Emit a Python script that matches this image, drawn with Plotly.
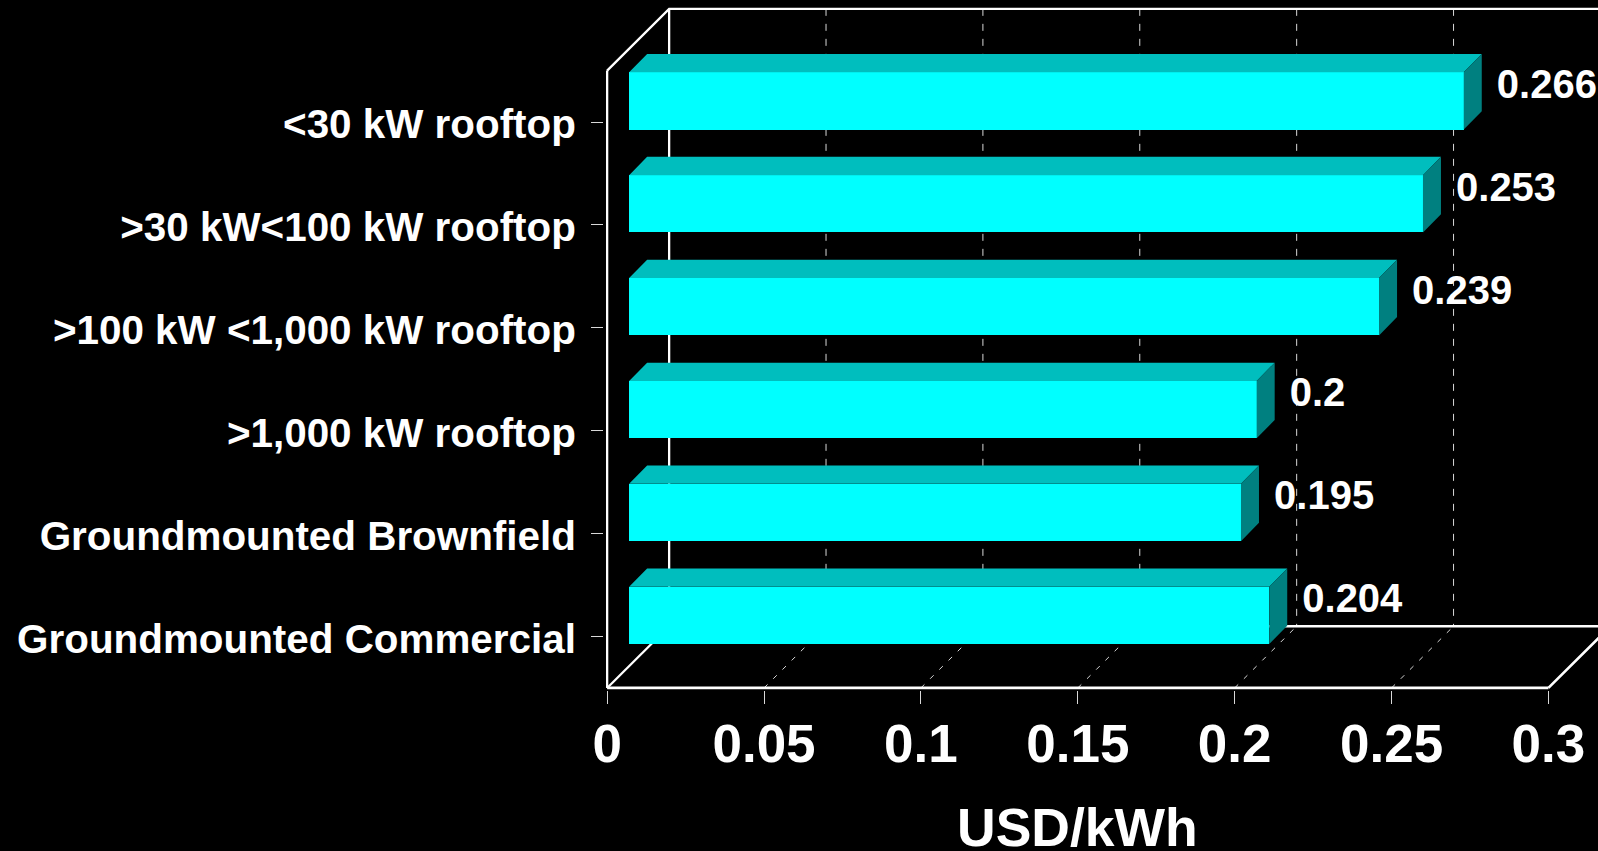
import plotly.graph_objects as go

categories = ["<30 kW rooftop", ">30 kW<100 kW rooftop", ">100 kW <1,000 kW rooftop",
              ">1,000 kW rooftop", "Groundmounted Brownfield", "Groundmounted Commercial"]
values = [0.266, 0.253, 0.239, 0.2, 0.195, 0.204]
value_labels = ["0.266", "0.253", "0.239", "0.2", "0.195", "0.204"]
x_ticks = [0, 0.05, 0.1, 0.15, 0.2, 0.25, 0.3]
x_tick_labels = ["0", "0.05", "0.1", "0.15", "0.2", "0.25", "0.3"]

# pseudo-3D geometry, in axis units
X_MAX = 0.3
Y_LOW, Y_HIGH = 5.5, -0.5
WALL_DX, WALL_DY = 0.01976, 0.6       # depth of the chart box
BAR_DX, BAR_DY = 0.00574, 0.178       # depth of a bar
BAR_X0, BAR_YSHIFT = 0.00701, 0.205   # where a bar's front face sits inside the box
BAR_WIDTH = 0.557
LABEL_GAP = 0.0048
LABEL_DOWN = 0.05
X_RANGE = [-0.001, 0.3158]
Y_RANGE = [5.52, -1.186]

WHITE = "#ffffff"
GRID = "#d8d8d8"
FONT = "Liberation Sans"

fig = go.Figure()


def frame(xs, ys, width=2.3):
    fig.add_trace(go.Scatter(x=xs, y=ys, mode="lines", hoverinfo="skip",
                             showlegend=False, line=dict(color=WHITE, width=width),
                             xaxis="x", yaxis="y"))


# gridlines on the back wall and floor
grid_x, grid_y = [], []
for t in x_ticks[1:-1]:
    grid_x += [t + WALL_DX, t + WALL_DX, None]
    grid_y += [Y_HIGH - WALL_DY, Y_LOW - WALL_DY, None]
fig.add_trace(go.Scatter(x=grid_x, y=grid_y, mode="lines", hoverinfo="skip",
                         showlegend=False, line=dict(color=GRID, width=1, dash="7px,8px")))
floor_x, floor_y = [], []
for t in x_ticks[1:-1]:
    floor_x += [t, t + WALL_DX, None]
    floor_y += [Y_LOW, Y_LOW - WALL_DY, None]
fig.add_trace(go.Scatter(x=floor_x, y=floor_y, mode="lines", hoverinfo="skip",
                         showlegend=False, line=dict(color=GRID, width=1, dash="5px,8px")))

# box outline
frame([0, WALL_DX, X_MAX + WALL_DX], [Y_HIGH, Y_HIGH - WALL_DY, Y_HIGH - WALL_DY])
frame([WALL_DX, WALL_DX], [Y_HIGH - WALL_DY, Y_LOW - WALL_DY])
frame([WALL_DX, X_MAX + WALL_DX, X_MAX], [Y_LOW - WALL_DY, Y_LOW - WALL_DY, Y_LOW], width=2.6)
frame([0, WALL_DX], [Y_LOW, Y_LOW - WALL_DY])
frame([0, 0], [Y_HIGH, Y_LOW])
frame([0, X_MAX], [Y_LOW, Y_LOW], width=2.8)

# bars: front faces, then top and side faces on the overlaying axes
ys = [i - BAR_YSHIFT for i in range(len(values))]
fig.add_trace(go.Bar(x=values, y=ys, base=BAR_X0, orientation="h", width=BAR_WIDTH,
                     marker=dict(color="#00ffff", line=dict(width=0)),
                     xaxis="x2", yaxis="y2", showlegend=False, name="USD/kWh",
                     hovertemplate="%{x}<extra></extra>"))

top_x, top_y, side_x, side_y = [], [], [], []
for v, y in zip(values, ys):
    x1 = BAR_X0 + v
    yt, yb = y - BAR_WIDTH / 2, y + BAR_WIDTH / 2
    top_x += [BAR_X0, BAR_X0 + BAR_DX, x1 + BAR_DX, x1, BAR_X0, None]
    top_y += [yt, yt - BAR_DY, yt - BAR_DY, yt, yt, None]
    side_x += [x1, x1 + BAR_DX, x1 + BAR_DX, x1, x1, None]
    side_y += [yt, yt - BAR_DY, yb - BAR_DY, yb, yt, None]
for xs_, ys_, col in ((top_x, top_y, "#00bebe"), (side_x, side_y, "#008080")):
    fig.add_trace(go.Scatter(x=xs_, y=ys_, mode="lines", fill="toself", fillcolor=col,
                             line=dict(width=0, color=col), hoverinfo="skip",
                             showlegend=False, xaxis="x2", yaxis="y2"))

fig.add_trace(go.Scatter(
    x=[BAR_X0 + v + BAR_DX + LABEL_GAP for v in values],
    y=[y - BAR_DY + LABEL_DOWN for y in ys],
    mode="text", text=value_labels, textposition="middle right",
    textfont=dict(family=FONT, size=40, color=WHITE, weight="bold"),
    cliponaxis=False, hoverinfo="skip", showlegend=False, xaxis="x2", yaxis="y2"))

fig.update_layout(
    width=1598, height=851, autosize=False,
    margin=dict(l=604.16, r=0, t=0, b=160.6, pad=0, autoexpand=False),
    paper_bgcolor="#000000", plot_bgcolor="#000000",
    font=dict(family=FONT, color=WHITE),
    showlegend=False,
    bargap=0,
    xaxis=dict(
        range=X_RANGE, tickmode="array", tickvals=x_ticks, ticktext=x_tick_labels,
        showgrid=False, zeroline=False, showline=False, automargin=False,
        ticks="outside", ticklen=13, tickwidth=1, tickcolor=GRID, ticklabelstandoff=-6,
        tickfont=dict(family=FONT, size=53, color=WHITE, weight="bold"),
    ),
    yaxis=dict(
        range=Y_RANGE, tickmode="array", tickvals=list(range(len(categories))),
        ticktext=categories, showgrid=False, zeroline=False, showline=False, automargin=False,
        ticks="outside", ticklen=12, tickwidth=1, tickcolor=GRID,
        ticklabelstandoff=7, ticklabelshift=-2,
        tickfont=dict(family=FONT, size=40.4, color=WHITE, weight="bold"),
    ),
    xaxis2=dict(range=X_RANGE, overlaying="x", visible=False, anchor="y2"),
    yaxis2=dict(range=Y_RANGE, overlaying="y", visible=False, anchor="x2"),
    annotations=[dict(text="<b>USD/kWh</b>", xref="x", yref="paper", x=0.15, y=-0.1993,
                      xanchor="center", yanchor="middle", showarrow=False,
                      font=dict(family=FONT, size=53.5, color=WHITE))],
)

fig.write_html("out.html", config={"displayModeBar": False},
               post_script="document.body.style.margin='0';document.body.style.background='#000';"
                           "document.body.style.overflow='hidden';")
